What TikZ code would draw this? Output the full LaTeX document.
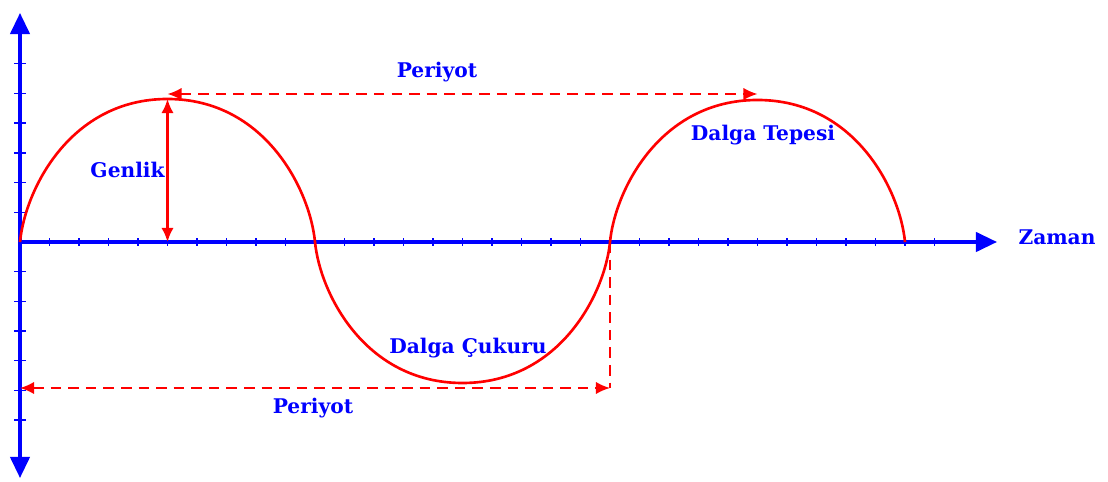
\documentclass[tikz,border=0pt]{standalone}
\usepackage{fontspec}
\setmainfont{DejaVu Serif}
\usetikzlibrary{arrows.meta}
\tikzset{
  axisline/.style={blue, line width=1.9pt},
  tick/.style={blue, line width=0.8pt},
  wave/.style={red, line width=1.5pt},
  measure/.style={red, line width=1pt, {Latex[length=8pt,width=7pt]}-{Latex[length=8pt,width=7pt]}},
  lbl/.style={blue, font=\fontsize{11.5}{13}\selectfont\bfseries, inner sep=0pt}
}
\begin{document}
\begin{tikzpicture}[x=0.02cm, y=0.02cm]
    \useasboundingbox (-20,-240) rectangle (1088,242);

    %axis
    \draw[axisline, -{Triangle[length=12pt,width=11pt]}] (0,0) -- (977,0);
    \draw[axisline, -{Triangle[length=12pt,width=11pt]}] (0,-1) -- (0,229);
    \draw[axisline, -{Triangle[length=12pt,width=11pt]}] (0,1) -- (0,-236);
    \foreach \k in {1,...,31}
        \draw[tick] (29.5*\k,-4) -- (29.5*\k,4);
    \foreach \k in {1,...,6} {
        \draw[tick] (-6,29.7*\k) -- (6,29.7*\k);
        \draw[tick] (-6,-29.7*\k) -- (6,-29.7*\k);
    }

    %wave: one hump per half period
    \foreach \s/\a in {0/143, 295/-141, 590/142}
        \draw[wave] (\s,0) .. controls (\s+5,0.364*\a) and (\s+50,\a) .. (\s+147.5,\a)
                    .. controls (\s+245,\a) and (\s+290,0.364*\a) .. (\s+295,0);

    %points on the wave
    \coordinate (peakA) at (147.5,143);
    \coordinate (peakAbase) at (147.5,0);
    \coordinate (cross) at (590,0);
    \coordinate (lowL) at (0,-146);
    \coordinate (lowR) at (590,-146);
    \coordinate (topL) at (147.5,148);
    \coordinate (topR) at (737.5,148);

    %arrows (dashed = period)
    \draw[measure, line width=1.3pt] (peakAbase) -- (peakA);
    \draw[measure, dash pattern=on 6pt off 4pt] (topL) -- (topR);
    \draw[measure, dash pattern=on 6pt off 4pt] (lowL) -- (lowR);
    \draw[red, line width=1pt, dash pattern=on 6pt off 4pt] (cross) -- (lowR);

    %labels
    \node[lbl] (periodtop) at (417,170) {Periyot};
    \node[lbl] (periodlow) at (293,-166) {Periyot};
    \node[lbl, anchor=east] (amp) at (145,72) {Genlik};
    \node[lbl] (crest) at (743,107) {Dalga Tepesi};
    \node[lbl] (trough) at (448,-106) {Dalga Çukuru};
    \node[lbl] (timelbl) at (1037,5) {Zaman};

\end{tikzpicture}
\end{document}
